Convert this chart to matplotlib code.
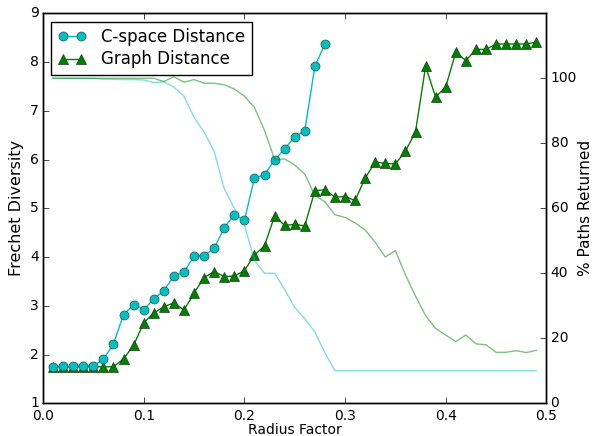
import numpy as np
import matplotlib
matplotlib.use("Agg")
import matplotlib.pyplot as plt

# ---- data ----
radius_cs = np.round(np.arange(1, 29) * 0.01, 2)
radius_all = np.round(np.arange(1, 50) * 0.01, 2)

cspace_div = [1.75, 1.76, 1.76, 1.77, 1.77, 1.90, 2.22, 2.82, 3.02, 2.92,
              3.14, 3.31, 3.61, 3.69, 4.02, 4.03, 4.18, 4.60, 4.87, 4.75,
              5.62, 5.69, 5.99, 6.22, 6.47, 6.59, 7.91, 8.37]

graph_div = [1.75, 1.75, 1.75, 1.75, 1.75, 1.75, 1.75, 1.91, 2.19, 2.65,
             2.85, 2.98, 3.06, 2.91, 3.26, 3.58, 3.70, 3.60, 3.61, 3.72,
             4.04, 4.23, 4.84, 4.65, 4.67, 4.64, 5.36, 5.38, 5.23, 5.24,
             5.16, 5.62, 5.95, 5.92, 5.91, 6.17, 6.57, 7.91, 7.28, 7.49,
             8.20, 8.03, 8.26, 8.26, 8.37, 8.37, 8.37, 8.37, 8.41]

cspace_pct = [100, 100, 100, 100, 100, 99.7, 99.7, 99.6, 99.6, 99.5,
              98.7, 98.9, 97.3, 94.5, 88, 83.5, 77.5, 66, 60, 55,
              44, 40, 40, 35, 29.5, 26, 22, 15.5, 10, 10,
              10, 10, 10, 10, 10, 10, 10, 10, 10, 10,
              10, 10, 10, 10, 10, 10, 10, 10, 10]

graph_pct = [100, 100, 100, 100, 100, 100, 100, 100, 100, 100,
             100, 99, 100.5, 98.8, 99.6, 98.5, 98.5, 98, 96.7, 94.5,
             91, 84, 75, 75.2, 73.3, 70.5, 64, 62, 58, 57.2,
             55.5, 53.3, 49.5, 45, 47, 39.5, 33, 27, 23, 21,
             19, 21, 18.3, 18, 15.7, 15.7, 16.2, 15.6, 16.3]

left_ticks = [1, 2, 3, 4, 5, 6, 7, 8, 9]
right_ticks = [0, 20, 40, 60, 80, 100]
x_ticks = [0.0, 0.1, 0.2, 0.3, 0.4, 0.5]

# ---- style ----
plt.style.use('classic')
plt.rcParams.update({
    'figure.facecolor': 'white',
    'savefig.facecolor': 'white',
    'font.family': ['DejaVu Sans'],
    'font.size': 11,
    'xtick.labelsize': 10,
    'ytick.labelsize': 10,
    'xtick.major.pad': 4,
    'ytick.major.pad': 3,
})

fig = plt.figure(figsize=(5.95, 4.36), dpi=100)
ax1 = fig.add_axes([0.0723, 0.075, 0.846, 0.8945])
ax2 = ax1.twinx()

l_graph, = ax1.plot(radius_all, graph_div, '-^', color='g', lw=1.0,
                    ms=6.5, mec='#1a3a1a', mew=0.5, label='Graph Distance')
l_cs, = ax1.plot(radius_cs, cspace_div, '-o', color='c', lw=1.0,
                 ms=6.5, mec='#2a5050', mew=0.5, label='C-space Distance')

ax2.plot(radius_all, cspace_pct, '-', color='c', alpha=0.5, lw=1.0)
ax2.plot(radius_all, graph_pct, '-', color='g', alpha=0.5, lw=1.0)

ax1.set_xlim(0, 0.5)
ax1.set_ylim(1, 9)
ax1.set_xticks(x_ticks)
ax1.set_yticks(left_ticks)
ax2.set_ylim(0, 120)
ax2.set_yticks(right_ticks)

ax1.set_xlabel('Radius Factor', fontsize=10, labelpad=0)
ax1.set_ylabel('Frechet Diversity', fontsize=11.5, labelpad=4)
ax2.set_ylabel('% Paths Returned', fontsize=11, labelpad=1)

leg = ax1.legend([l_cs, l_graph], ['C-space Distance', 'Graph Distance'],
                 loc='upper left', numpoints=2, fontsize=12,
                 handlelength=1.7, labelspacing=0.25, borderpad=0.4,
                 handletextpad=0.9, borderaxespad=0.5,
                 fancybox=False, shadow=False)
leg.set_zorder(10)

fig.savefig('out.png', dpi=100)
